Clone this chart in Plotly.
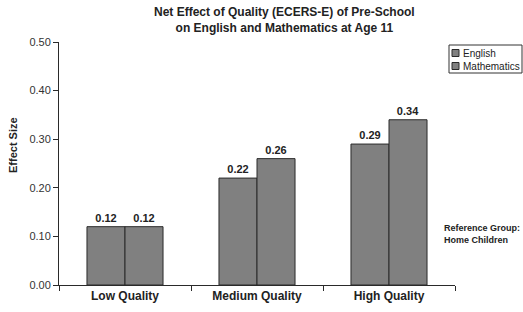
import plotly.graph_objects as go

categories = ["Low Quality", "Medium Quality", "High Quality"]
english = [0.12, 0.22, 0.29]
mathematics = [0.12, 0.26, 0.34]
y_ticks = [0.0, 0.1, 0.2, 0.3, 0.4, 0.5]
series_names = ["English", "Mathematics"]

W, H = 523, 312
L, R, T, B = 59, 68, 42, 27
pw, ph = W - L - R, H - T - B

font = "Liberation Sans, Arial, sans-serif"
bar_color = "#808080"
line_color = "#2a2a2a"


def px_x(x):
    return (x - L) / pw


def px_y(y):
    return (H - B - y) / ph


fig = go.Figure()
for name, vals in zip(series_names, [english, mathematics]):
    fig.add_trace(go.Bar(
        x=categories, y=vals, name=name,
        marker=dict(color=bar_color, line=dict(color=line_color, width=1)),
        text=[f"<b>{v:.2f}</b>" for v in vals],
        textposition="outside",
        textfont=dict(size=11, color="#222", family=font),
        cliponaxis=False,
        showlegend=False,
    ))

fig.update_layout(
    width=W, height=H,
    margin=dict(l=L, r=R, t=T, b=B, autoexpand=False),
    paper_bgcolor="white", plot_bgcolor="white",
    font=dict(family=font, color="#222"),
    barmode="group", bargap=0.424, bargroupgap=0,
    showlegend=False,
)

fig.update_yaxes(
    range=[0, 0.5], tickvals=y_ticks, tickformat=".2f",
    showline=True, linecolor=line_color, linewidth=1,
    ticks="outside", ticklen=5, tickcolor=line_color,
    showgrid=False, zeroline=False,
    tickfont=dict(size=11, color="#333", family=font),
)
fig.update_xaxes(
    showline=True, linecolor=line_color, linewidth=1,
    ticks="outside", ticklen=5, tickcolor=line_color, tickson="boundaries",
    showgrid=False,
    tickfont=dict(size=12, color="#222", family=font),
    tickprefix="<b>", ticksuffix="</b>",
)

# compact legend box (as in the reference)
fig.add_shape(type="rect", xref="paper", yref="paper",
              x0=px_x(449), x1=px_x(522), y0=px_y(73), y1=px_y(45),
              line=dict(color="#333", width=1), fillcolor="white")
for i, name in enumerate(series_names):
    cy = 53 + 13 * i
    fig.add_shape(type="rect", xref="paper", yref="paper",
                  x0=px_x(452), x1=px_x(459), y0=px_y(cy + 3.5), y1=px_y(cy - 3.5),
                  line=dict(color=line_color, width=1), fillcolor=bar_color)
    fig.add_annotation(text=name, xref="paper", yref="paper",
                       x=px_x(461), xanchor="left", y=px_y(cy), yanchor="middle",
                       showarrow=False, font=dict(size=10, color="#222", family=font))

fig.add_annotation(
    text="<b>Net Effect of Quality (ECERS-E) of Pre-School<br>on English and Mathematics at Age 11</b>",
    xref="paper", yref="paper",
    x=px_x(284), xanchor="center", y=px_y(20), yanchor="middle",
    showarrow=False, font=dict(size=12, color="#222", family=font),
)
fig.add_annotation(
    text="<b>Effect Size</b>", textangle=-90,
    xref="paper", yref="paper",
    x=px_x(13), xanchor="center",
    y=px_y(145), yanchor="middle",
    showarrow=False, font=dict(size=11, color="#222", family=font),
)
fig.add_annotation(
    text="<b>Reference Group:<br>Home Children</b>", align="left",
    xref="paper", yref="paper",
    x=px_x(442), xanchor="left",
    y=px_y(234), yanchor="middle",
    showarrow=False, font=dict(size=9, color="#222", family=font),
)

fig.write_html(
    "out.html",
    config={"displayModeBar": False},
    post_script="document.body.style.margin='0';",
)
